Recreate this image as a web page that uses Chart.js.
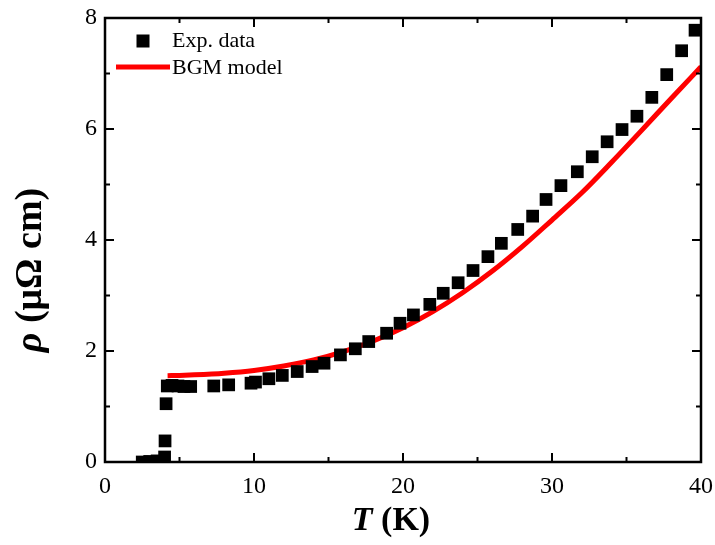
<!DOCTYPE html>
<html>
<head>
<meta charset="utf-8">
<script src="https://cdn.jsdelivr.net/npm/chart.js@4"></script>
<style>
html,body{margin:0;padding:0;background:#fff;}
#wrap{width:715px;height:545px;position:relative;}
</style>
</head>
<body>
<div id="wrap"><canvas id="c"></canvas></div>
<script>
// Experimental data (T in K, rho in µΩ cm)
const T_exp = [2.5, 3.0, 3.5, 4.0, 4.03, 4.1, 4.18, 4.5, 4.9, 5.3, 5.75, 7.3, 8.3, 9.8, 10.1, 11.0, 11.9, 12.9, 13.9, 14.7, 15.8, 16.8, 17.7, 18.9, 19.8, 20.7, 21.8, 22.7, 23.7, 24.7, 25.7, 26.6, 27.7, 28.7, 29.6, 30.6, 31.7, 32.7, 33.7, 34.7, 35.7, 36.7, 37.7, 38.7, 39.6];
const rho_exp = [0.0, 0.01, 0.02, 0.09, 0.38, 1.05, 1.37, 1.38, 1.37, 1.36, 1.36, 1.37, 1.39, 1.42, 1.44, 1.50, 1.56, 1.63, 1.72, 1.78, 1.93, 2.04, 2.17, 2.32, 2.50, 2.65, 2.84, 3.04, 3.23, 3.45, 3.70, 3.94, 4.19, 4.43, 4.73, 4.98, 5.23, 5.50, 5.77, 5.99, 6.23, 6.57, 6.98, 7.41, 7.78];
// BGM model curve
const T_fit = [4.2, 5, 6, 8, 10, 12, 14, 16, 18, 20, 22, 24, 26, 28, 30, 32, 34, 36, 38, 40];
const rho_fit = [1.555, 1.56, 1.57, 1.60, 1.65, 1.73, 1.84, 1.99, 2.18, 2.42, 2.71, 3.05, 3.44, 3.88, 4.36, 4.85, 5.40, 5.97, 6.55, 7.12];
const xTicks = [0, 10, 20, 30, 40];
const yTicks = [0, 2, 4, 6, 8];
const xMinor = [5, 15, 25, 35];
const yMinor = [1, 3, 5, 7];
const seriesNames = ["Exp. data", "BGM model"];

const SERIF = "'Liberation Serif', 'Times New Roman', serif";

const framePlugin = {
  id: 'frame',
  afterDatasetsDraw(chart) {
    const {ctx, chartArea: a, scales: {x, y}} = chart;
    ctx.save();
    ctx.strokeStyle = '#000';
    ctx.lineWidth = 2.5;
    ctx.strokeRect(a.left, a.top, a.right - a.left, a.bottom - a.top);
    ctx.lineWidth = 2;
    const tick = (vals, len) => {
      vals.forEach(v => {
        const px = x.getPixelForValue(v);
        ctx.beginPath();
        ctx.moveTo(px, a.bottom); ctx.lineTo(px, a.bottom - len);
        ctx.moveTo(px, a.top); ctx.lineTo(px, a.top + len);
        ctx.stroke();
      });
    };
    const tickY = (vals, len) => {
      vals.forEach(v => {
        const py = y.getPixelForValue(v);
        ctx.beginPath();
        ctx.moveTo(a.left, py); ctx.lineTo(a.left + len, py);
        ctx.moveTo(a.right, py); ctx.lineTo(a.right - len, py);
        ctx.stroke();
      });
    };
    tick(xTicks.slice(1, -1), 9); tick(xMinor, 5);
    tickY(yTicks.slice(1, -1), 9); tickY(yMinor, 5);

    // X title: T (K)
    ctx.fillStyle = '#000';
    ctx.textBaseline = 'alphabetic';
    const fs = 34;
    const t1 = 'T', t2 = ' (K)';
    ctx.font = `italic bold ${fs}px ${SERIF}`;
    const w1 = ctx.measureText(t1).width;
    ctx.font = `bold ${fs}px ${SERIF}`;
    const w2 = ctx.measureText(t2).width;
    const cx = (a.left + a.right) / 2 - 12;
    let sx = cx - (w1 + w2) / 2;
    const by = 530;
    ctx.font = `italic bold ${fs}px ${SERIF}`;
    ctx.fillText(t1, sx, by);
    ctx.font = `bold ${fs}px ${SERIF}`;
    ctx.fillText(t2, sx + w1, by);

    // Y title: rho (µΩ cm)
    const fy = 38;
    ctx.save();
    ctx.translate(41, 270);
    ctx.rotate(-Math.PI / 2);
    const r1 = 'ρ', r2 = ' (μΩ cm)';
    ctx.font = `italic bold ${fy}px ${SERIF}`;
    const q1 = ctx.measureText(r1).width;
    ctx.font = `bold ${fy}px ${SERIF}`;
    const q2 = ctx.measureText(r2).width;
    let s2 = -(q1 + q2) / 2;
    ctx.font = `italic bold ${fy}px ${SERIF}`;
    ctx.fillText(r1, s2, 0);
    ctx.font = `bold ${fy}px ${SERIF}`;
    ctx.fillText(r2, s2 + q1, 0);
    ctx.restore();

    // Legend
    const dsExp = chart.data.datasets[1];
    const dsFit = chart.data.datasets[0];
    ctx.font = `22px ${SERIF}`;
    ctx.textBaseline = 'middle';
    ctx.fillStyle = dsExp.backgroundColor;
    ctx.fillRect(143 - 6.5, 41 - 6.5, 13, 13);
    ctx.fillStyle = '#000';
    ctx.fillText(seriesNames[0], 172, 41);
    ctx.strokeStyle = dsFit.borderColor;
    ctx.lineWidth = dsFit.borderWidth;
    ctx.beginPath(); ctx.moveTo(116, 67); ctx.lineTo(170, 67); ctx.stroke();
    ctx.fillStyle = '#000';
    ctx.fillText(seriesNames[1], 172, 68);
    ctx.restore();
  }
};

new Chart(document.getElementById('c'), {
  type: 'scatter',
  data: {
    datasets: [
      {
        label: seriesNames[1],
        data: T_fit.map((t, i) => ({x: t, y: rho_fit[i]})),
        showLine: true,
        borderColor: '#ff0000',
        backgroundColor: '#ff0000',
        borderWidth: 5,
        pointRadius: 0,
        cubicInterpolationMode: 'monotone',
        clip: 0,
        order: 1
      },
      {
        label: seriesNames[0],
        data: T_exp.map((t, i) => ({x: t, y: rho_exp[i]})),
        pointStyle: 'rect',
        pointRadius: 9,
        pointBorderWidth: 0,
        backgroundColor: '#000',
        borderColor: '#000',
        showLine: false,
        clip: 0,
        order: 0
      }
    ]
  },
  options: {
    responsive: true,
    maintainAspectRatio: false,
    animation: false,
    devicePixelRatio: 1,
    layout: {padding: {left: 0, right: 14, top: 18, bottom: 0}},
    plugins: {legend: {display: false}, tooltip: {enabled: false}},
    scales: {
      x: {
        type: 'linear', min: 0, max: 40,
        afterFit: s => { s.height = 83; s.paddingLeft = 0; s.paddingRight = 0; },
        afterBuildTicks: s => { s.ticks = xTicks.map(v => ({value: v})); },
        grid: {display: false, drawTicks: false},
        border: {display: false},
        ticks: {font: {family: SERIF, size: 24}, color: '#000', padding: 10, maxRotation: 0}
      },
      y: {
        type: 'linear', min: 0, max: 8,
        afterFit: s => { s.width = 105; s.paddingTop = 0; s.paddingBottom = 0; },
        afterBuildTicks: s => { s.ticks = yTicks.map(v => ({value: v})); },
        grid: {display: false, drawTicks: false},
        border: {display: false},
        ticks: {font: {family: SERIF, size: 24}, color: '#000', padding: 8}
      }
    }
  },
  plugins: [framePlugin]
});
</script>
</body>
</html>
